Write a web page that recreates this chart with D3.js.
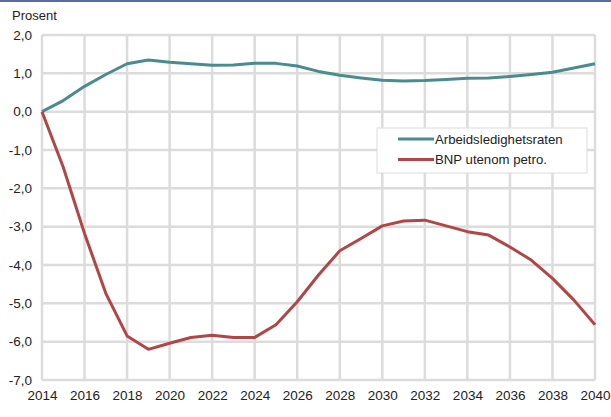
<!DOCTYPE html>
<html lang="no">
<head>
<meta charset="UTF-8">
<title>Arbeidsledighet og BNP</title>
<script src="https://cdn.jsdelivr.net/npm/d3@7/dist/d3.min.js"></script>
<style>
  body { margin: 0; background: #fff; }
  svg text { font-family: "Liberation Sans", Arial, sans-serif; fill: #222; }
</style>
</head>
<body>
<svg width="611" height="417" id="chart"></svg>
<script>
const years = d3.range(2014, 2041);
const ledighet = [0.0, 0.29, 0.66, 0.97, 1.25, 1.35, 1.29, 1.25, 1.21, 1.22, 1.26, 1.26, 1.19,
  1.05, 0.95, 0.88, 0.82, 0.80, 0.81, 0.84, 0.87, 0.88, 0.92, 0.97, 1.03, 1.14, 1.25];
const bnp = [0.0, -1.45, -3.18, -4.74, -5.85, -6.2, -6.04, -5.89, -5.83, -5.89, -5.89, -5.56, -4.96,
  -4.26, -3.63, -3.31, -2.98, -2.85, -2.83, -2.98, -3.13, -3.22, -3.53, -3.87, -4.35, -4.91, -5.56];
const seriesNames = ['Arbeidsledighetsraten', 'BNP utenom petro.'];
const xTicks = d3.range(2014, 2041, 2);
const yTicks = d3.range(-7, 3, 1);

const svg = d3.select('#chart');
const margin = {top: 35, right: 16, bottom: 37, left: 42};
const width = +svg.attr('width');
const innerW = 595 - margin.left;
const innerH = 380 - margin.top;

// top frame line
svg.append('rect').attr('x', 0).attr('y', 0).attr('width', width).attr('height', 2).attr('fill', '#5b6b9b');

const x = d3.scaleLinear().domain([2014, 2040]).range([0, innerW]);
const y = d3.scaleLinear().domain([-7, 2]).range([innerH, 0]);

const g = svg.append('g').attr('transform', `translate(${margin.left},${margin.top})`);

// grid
const gridColor = '#dcdcdc';
g.append('g').selectAll('line').data(xTicks).join('line')
  .attr('x1', d => x(d)).attr('x2', d => x(d)).attr('y1', 0).attr('y2', innerH)
  .attr('stroke', gridColor).attr('stroke-width', 2.5);
g.append('g').selectAll('line').data(yTicks).join('line')
  .attr('x1', 0).attr('x2', innerW).attr('y1', d => y(d)).attr('y2', d => y(d))
  .attr('stroke', gridColor).attr('stroke-width', 2.5);

// axis labels
const fmt = d => d3.format('.1f')(d).replace('.', ',').replace('−', '-');
const yAxis = d3.axisLeft(y).tickValues(yTicks).tickFormat(fmt).tickSize(0).tickPadding(10);
const yg = g.append('g').call(yAxis);
yg.select('.domain').remove();
yg.selectAll('text').attr('font-size', '13.5px').attr('fill', '#222');

const xAxis = d3.axisBottom(x).tickValues(xTicks).tickFormat(d3.format('d')).tickSize(0).tickPadding(10);
const xg = g.append('g').attr('transform', `translate(0,${innerH})`).call(xAxis);
xg.select('.domain').remove();
xg.selectAll('text').attr('font-size', '13.5px').attr('fill', '#222');

svg.append('text').attr('x', 12).attr('y', 20).attr('font-size', '13px').text('Prosent');

// lines
const colors = ['#4a8b8e', '#b14646'];
const line = d3.line().x((d, i) => x(years[i])).y(d => y(d));
[ledighet, bnp].forEach((s, i) => {
  g.append('path').datum(s).attr('d', line)
    .attr('fill', 'none').attr('stroke', colors[i]).attr('stroke-width', 3)
    .attr('stroke-linejoin', 'round');
});

// legend
const lg = svg.append('g').attr('transform', 'translate(377,128)');
lg.append('rect').attr('width', 210).attr('height', 45).attr('fill', '#fff').attr('stroke', '#dcdcdc');
seriesNames.forEach((n, i) => {
  const yy = 11 + i * 20.5;
  lg.append('line').attr('x1', 21).attr('x2', 57).attr('y1', yy).attr('y2', yy)
    .attr('stroke', colors[i]).attr('stroke-width', 3);
  lg.append('text').attr('x', 58).attr('y', yy + 4.5).attr('font-size', '13.2px').text(n);
});
</script>
</body>
</html>
